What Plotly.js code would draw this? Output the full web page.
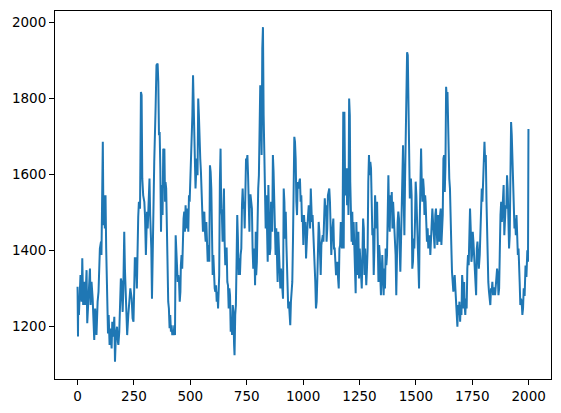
<!DOCTYPE html>
<html>
<head>
<meta charset="utf-8">
<script src="https://cdn.plot.ly/plotly-3.0.1.min.js"></script>
<style>html,body{margin:0;padding:0;background:#fff;}#chart{width:561px;height:413px;}</style>
</head>
<body>
<div id="chart"></div>
<script>
// Series (index, value)
const xs = [
0,2,3,6,10,13,18,21,25,30,34,40,43,47,51,55,58,62,67,70,74,78,84,89,93,99,104,106,109,112,115,118,121,124,127,130,135,138,142,146,151,154,158,163,166,170,175,179,
181,185,188,192,195,200,203,207,210,215,220,225,229,234,240,244,248,251,254,259,263,269,272,277,281,284,287,291,296,299,303,308,311,315,319,322,327,330,333,337,340,346,350,355,358,361,364,367,370,373,377,380,383,
385,388,390,393,396,399,402,405,408,411,414,417,420,423,426,429,432,435,438,441,444,447,450,453,456,458,461,464,467,470,473,476,479,482,485,488,491,494,497,500,503,506,509,512,515,518,521,523,526,529,532,535,538,541,544,547,550,553,556,559,562,565,568,571,574,577,580,
584,587,590,593,596,599,602,605,608,611,614,617,620,623,626,628,631,634,637,640,643,646,649,652,655,658,661,664,667,670,673,676,679,682,685,688,691,694,696,699,702,705,708,711,714,717,720,723,726,729,732,735,738,741,744,747,750,753,756,759,762,764,767,770,773,776,779,
784,787,790,792,795,798,801,804,807,810,813,816,819,822,825,828,831,834,837,840,843,846,849,852,855,858,860,863,866,869,872,875,878,881,884,887,890,893,896,899,902,905,908,911,914,917,920,923,926,928,931,934,937,940,943,946,949,952,955,958,961,964,967,970,973,976,979,
983,986,989,992,995,998,1001,1004,1007,1010,1013,1016,1019,1022,1025,1028,1031,1034,1036,1039,1042,1045,1048,1051,1054,1057,1060,1063,1066,1069,1072,1075,1078,1081,1084,1087,1090,1093,1096,1099,1102,1104,1107,1110,1113,1116,1119,1122,1125,1128,1131,1134,1137,1140,1143,1146,1149,1152,1155,1158,1161,1164,1167,1170,1172,1175,1178,
1180,1183,1186,1189,1192,1195,1198,1201,1204,1207,1209,1212,1215,1218,1221,1224,1227,1230,1233,1236,1239,1242,1245,1248,1251,1254,1257,1260,1263,1266,1269,1272,1275,1277,1280,1283,1286,1289,1292,1295,1298,1301,1304,1307,1310,1313,1316,1319,1322,1325,1328,1331,1334,1337,1340,1342,1345,1348,1351,1354,1357,1360,1363,1366,1369,1372,1375,1378,
1381,1384,1387,1390,1393,1396,1399,1402,1405,1408,1410,1413,1416,1419,1422,1425,1428,1431,1434,1437,1440,1443,1446,1449,1452,1455,1458,1461,1464,1467,1470,1473,1476,1478,1481,1484,1487,1490,1493,1496,1499,1502,1505,1508,1511,1514,1517,1520,1523,1526,1529,1532,1535,1538,1541,1543,1546,1549,1552,1555,1558,1561,1564,1567,1570,1573,1576,1579,
1583,1586,1589,1592,1595,1598,1601,1604,1607,1610,1613,1616,1619,1622,1625,1628,1631,1634,1637,1640,1643,1646,1648,1651,1654,1657,1660,1663,1666,1669,1672,1675,1678,1681,1684,1687,1690,1693,1696,1699,1702,1705,1708,1711,1714,1716,1719,1722,1725,1728,1731,1734,1737,1740,1743,1746,1749,1752,1755,1758,1761,1764,1767,1770,1773,1776,1779,
1783,1786,1789,1792,1795,1798,1801,1804,1807,1810,1813,1816,1819,1821,1824,1827,1830,1833,1836,1839,1842,1845,1848,1851,1854,1857,1860,1863,1866,1869,1872,1875,1878,1881,1884,1887,1889,1892,1895,1898,1901,1904,1907,1910,1913,1916,1919,1922,1925,1928,1931,1934,1937,1940,1943,1946,1949,1952,1955,1957,1960,1963,1966,1969,1972,1975,1978,1982,1986,1990,1994,1997,1999
];
const ys = [
1304,1173,1273,1230,1300,1335,1265,1379,1256,1317,1256,1348,1208,1273,1300,1352,1256,1317,1273,1225,1164,1247,1177,1265,1291,1405,1423,1388,1686,1686,1466,1545,1458,1545,1405,1291,1181,1230,1151,1194,1142,1212,1173,1225,1107,1177,1199,1159,
1151,1186,1256,1326,1317,1238,1300,1449,1352,1265,1177,1230,1256,1300,1273,1221,1212,1282,1379,1379,1300,1488,1528,1510,1817,1809,1589,1545,1528,1493,1388,1502,1458,1528,1589,1493,1405,1273,1405,1519,1633,1774,1888,1892,1844,1703,1712,1616,1449,1572,1493,1668,1633,
1668,1528,1580,1563,1449,1326,1265,1247,1195,1230,1186,1203,1177,1186,1177,1203,1177,1440,1405,1335,1317,1335,1317,1265,1291,1361,1388,1352,1466,1484,1502,1449,1519,1458,1484,1510,1449,1545,1528,1581,1598,1651,1756,1861,1791,1712,1642,1563,1607,1642,1598,1800,1756,1668,1642,1607,1528,1502,1449,1493,1502,1449,1423,1475,1405,1370,1414,
1370,1624,1607,1563,1405,1335,1388,1326,1300,1291,1308,1265,1291,1247,1282,1335,1581,1668,1510,1493,1423,1528,1563,1423,1361,1405,1405,1317,1308,1247,1300,1282,1186,1221,1177,1256,1238,1151,1124,1230,1256,1370,1493,1431,1335,1379,1335,1388,1405,1519,1563,1510,1528,1458,1616,1642,1633,1651,1598,1528,1449,1545,1545,1528,1510,1405,1352,
1405,1308,1449,1335,1370,1493,1563,1598,1712,1835,1800,1651,1932,1988,1756,1616,1581,1458,1545,1388,1370,1572,1475,1388,1405,1528,1493,1449,1651,1607,1528,1423,1388,1458,1361,1317,1449,1405,1335,1300,1352,1317,1282,1273,1563,1528,1431,1502,1414,1344,1273,1247,1265,1230,1203,1265,1300,1317,1423,1589,1699,1686,1642,1528,1493,1580,1563,
1581,1589,1528,1545,1475,1493,1414,1493,1458,1475,1379,1405,1458,1493,1519,1510,1458,1563,1528,1475,1493,1458,1423,1361,1317,1247,1265,1326,1388,1475,1449,1405,1335,1414,1440,1440,1423,1528,1537,1502,1519,1423,1458,1545,1563,1563,1528,1440,1388,1440,1475,1484,1405,1405,1370,1335,1352,1370,1326,1300,1405,1414,1475,1449,1405,1458,1765,
1405,1765,1580,1545,1616,1519,1616,1493,1800,1756,1580,1510,1423,1502,1414,1475,1388,1317,1287,1475,1405,1335,1449,1326,1405,1352,1317,1300,1388,1484,1458,1335,1405,1361,1308,1352,1405,1581,1651,1598,1633,1616,1545,1440,1458,1335,1405,1545,1502,1458,1528,1370,1317,1414,1388,1335,1282,1335,1388,1335,1282,1352,1300,1405,1361,1388,1493,1598,
1493,1449,1545,1510,1554,1458,1528,1493,1458,1440,1388,1282,1405,1475,1502,1484,1405,1344,1423,1554,1642,1677,1537,1440,1589,1686,1844,1922,1914,1756,1589,1537,1580,1589,1545,1352,1370,1431,1405,1475,1581,1545,1493,1458,1405,1300,1475,1589,1668,1580,1528,1589,1563,1493,1545,1528,1475,1423,1458,1405,1423,1440,1388,1440,1493,1510,1475,1431,
1405,1493,1510,1458,1414,1493,1440,1423,1493,1510,1414,1458,1493,1642,1651,1554,1624,1831,1800,1817,1695,1703,1589,1563,1423,1414,1344,1300,1291,1317,1335,1300,1265,1230,1199,1256,1230,1265,1212,1256,1230,1335,1308,1247,1317,1256,1230,1273,1247,1352,1388,1361,1493,1510,1458,1370,1388,1449,1423,1388,1352,1317,1282,1405,1423,1388,1352,
1388,1458,1510,1563,1528,1581,1659,1686,1633,1651,1528,1405,1388,1317,1291,1273,1256,1300,1291,1317,1282,1300,1300,1282,1317,1335,1352,1335,1282,1300,1423,1493,1528,1475,1510,1563,1572,1440,1493,1519,1510,1598,1563,1458,1405,1440,1563,1738,1703,1633,1545,1528,1458,1484,1440,1493,1458,1388,1405,1335,1317,1256,1273,1265,1230,1247,1300,1280,1360,1330,1400,1370,1720
];
const xTicks = [0,250,500,750,1000,1250,1500,1750,2000];
const yTicks = [1200,1400,1600,1800,2000];

const trace = {
  x: xs, y: ys, type: 'scatter', mode: 'lines',
  line: {color: '#1f77b4', width: 2}, hoverinfo: 'skip'
};
const axisBase = {
  showline: true, linecolor: '#000', linewidth: 1, mirror: true,
  ticks: 'outside', ticklen: 5, tickwidth: 1, tickcolor: '#000',
  showgrid: false, zeroline: false,
  tickfont: {family: 'DejaVu Sans', size: 13.5, color: '#000'}
};
const layout = {
  width: 561, height: 413,
  margin: {l: 55, r: 10, t: 11, b: 34, pad: 0},
  paper_bgcolor: '#fff', plot_bgcolor: '#fff',
  showlegend: false,
  xaxis: Object.assign({}, axisBase, {range: [-99.95, 2098.95], tickvals: xTicks, ticktext: xTicks.map(String)}),
  yaxis: Object.assign({}, axisBase, {range: [1061.3, 2030.5], tickvals: yTicks, ticktext: yTicks.map(String)})
};
Plotly.newPlot('chart', [trace], layout, {staticPlot: true, displayModeBar: false});
</script>
</body>
</html>
